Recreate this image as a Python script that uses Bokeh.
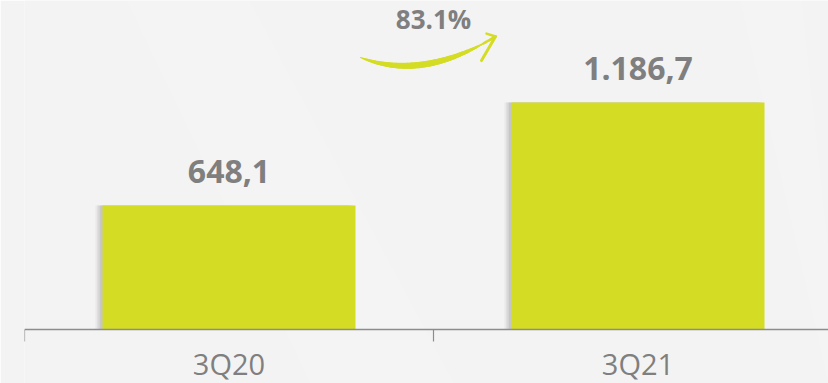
import numpy as np
from bokeh.plotting import figure
from bokeh.models import Range1d, ColumnDataSource, Span
from bokeh.core.properties import value
from bokeh.embed import file_html
from bokeh.resources import INLINE

# ---- data ----
categories = ["3Q20", "3Q21"]
values = [648.1, 1186.7]

BG = "#f3f3f3"
BAR = "#d4dc24"
GREY = "#7f7f7f"
AXIS = "#8c8c8c"
FONT = "Open Sans"


def fmt_eu(v):
    s = f"{v:,.1f}"
    return s.replace(",", "X").replace(".", ",").replace("X", ".")


growth = (values[1] / values[0] - 1) * 100

x_centers = [i + 0.5 for i in range(len(categories))]
boundaries = list(range(len(categories) + 1))
labels = [fmt_eu(v) for v in values]

YMAX = 1720
PPU = 329 / YMAX  # pixels per data unit
YMIN = -54 / PPU

p = figure(width=828, height=383, output_backend="svg", toolbar_location=None,
           x_range=Range1d(0, 804 / 409), y_range=Range1d(YMIN, YMAX),
           x_axis_location=None, y_axis_location=None,
           min_border_left=24, min_border_right=0,
           min_border_top=0, min_border_bottom=0)
p.background_fill_color = BG
p.border_fill_color = BG
p.outline_line_color = None
p.grid.visible = False

# subtle light streaks in the background
p.patch([0.25, 0.55, 1.05, 0.7], [YMAX, YMAX, YMIN, YMIN], fill_color="white",
        fill_alpha=0.12, line_color=None)
p.patch([1.75, 1.9, 1.966, 1.966], [YMAX, YMAX, 400, YMIN], fill_color="white",
        fill_alpha=0.12, line_color=None)

bw = 253 / 409
src = ColumnDataSource(dict(x=x_centers, top=values, label=labels))
# soft shadow on the left (layered for a blur effect)
for k, a in enumerate([0.08, 0.09, 0.11, 0.13]):
    dx = (7 - k * 1.5) / 409
    p.vbar(x=[x - dx for x in x_centers], top=values, width=bw,
           fill_color="#777777", fill_alpha=a, line_color=None)
p.vbar(x="x", top="top", width=bw, source=src, fill_color=BAR, line_color=None)

p.text(x="x", y="top", text="label", source=src, text_align="center",
       text_baseline="alphabetic", y_offset=-34, text_font=value(FONT),
       text_font_style="bold", text_font_size="32px", text_color=GREY)

# growth annotation
p.text(x=[1.0], y=[1622], text=[f"{growth:.1f}%"], text_align="center",
       text_baseline="alphabetic", text_font=value(FONT), text_font_style="bold",
       text_font_size="26px", text_color=GREY)

# curved arrow (quadratic bezier, tapered)
P0 = np.array([0.8215, 1422.0])
P1 = np.array([0.9731, 1297.0])
P2 = np.array([1.1516, 1532.0])
t = np.linspace(0, 1, 61)
pts = ((1 - t) ** 2)[:, None] * P0 + (2 * (1 - t) * t)[:, None] * P1 + (t ** 2)[:, None] * P2
widths = 1.2 + 5.0 * np.sin(np.pi * np.clip(t * 1.1, 0, 1)) ** 0.8
widths = np.maximum(widths, 2.5 * (t > 0.9))
p.segment(x0=pts[:-1, 0], y0=pts[:-1, 1], x1=pts[1:, 0], y1=pts[1:, 1],
          line_width=widths[:-1], line_color=BAR, line_cap="round")
p.segment(x0=[1.1516, 1.1516], y0=[1532, 1532], x1=[1.1174, 1.1296],
          y1=[1406, 1547], line_width=[3, 2.5], line_color=BAR, line_cap="round")

# category axis: baseline, boundary ticks, labels
p.add_layout(Span(location=0, dimension="width", line_color=AXIS, line_width=1.5))
p.segment(x0=boundaries, y0=[0] * len(boundaries), x1=boundaries,
          y1=[-12 / PPU] * len(boundaries), line_color=AXIS, line_width=1.2)
p.text(x=x_centers, y=[0] * len(categories), text=categories, y_offset=34,
       text_align="center", text_baseline="alphabetic", text_font=value(FONT),
       text_font_size="29px", text_color=GREY)

open("out.html", "w").write(file_html(p, INLINE))
